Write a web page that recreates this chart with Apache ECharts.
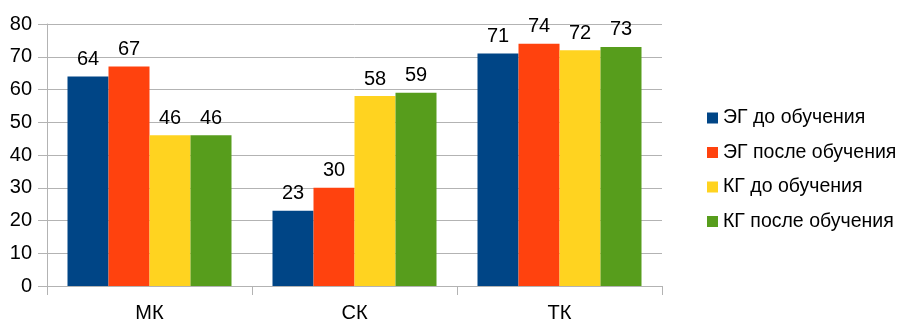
<!DOCTYPE html>
<html><head><meta charset="utf-8">
<script src="https://cdn.jsdelivr.net/npm/echarts@6/dist/echarts.min.js"></script>
<style>html,body{margin:0;padding:0;background:#fff}#c{width:905px;height:323px}</style>
</head><body><div id="c"></div>
<script>
var categories = ['МК', 'СК', 'ТК'];
var seriesNames = ['ЭГ до обучения', 'ЭГ после обучения', 'КГ до обучения', 'КГ после обучения'];
var egBefore = [64, 23, 71];
var egAfter = [67, 30, 74];
var kgBefore = [46, 58, 72];
var kgAfter = [46, 59, 73];
var colors = ['#004586', '#ff420e', '#ffd320', '#579d1c'];
var font = 'Liberation Sans, Arial, sans-serif';
var chart = echarts.init(document.getElementById('c'), null, {renderer: 'canvas'});
var data = [egBefore, egAfter, kgBefore, kgAfter];
chart.setOption({
  animation: false,
  color: colors,
  grid: {left: 47, right: 243, top: 24, bottom: 37},
  legend: {
    orient: 'vertical', left: 702, top: 103, itemGap: 14.5, itemWidth: 11, itemHeight: 11,
    icon: 'rect',
    textStyle: {fontFamily: font, fontSize: 19.5, color: '#000'},
    data: seriesNames
  },
  xAxis: {
    type: 'category', data: categories,
    axisLine: {lineStyle: {color: '#b3b3b3'}},
    axisTick: {show: true, length: 9, lineStyle: {color: '#b3b3b3'}},
    axisLabel: {fontFamily: font, fontSize: 20, color: '#000', margin: 17}
  },
  yAxis: {
    type: 'value', min: 0, max: 80, interval: 10,
    axisLine: {show: true, lineStyle: {color: '#b3b3b3'}},
    axisTick: {show: true, length: 9, lineStyle: {color: '#b3b3b3'}},
    splitLine: {lineStyle: {color: '#b3b3b3'}},
    axisLabel: {fontFamily: font, fontSize: 20, color: '#000', margin: 15}
  },
  series: seriesNames.map(function(n, i){
    return {
      name: n, type: 'bar', data: data[i], barGap: '0%', barCategoryGap: '20%',
      label: {show: true, position: 'top', distance: 7, fontFamily: font, fontSize: 20, color: '#000'}
    };
  })
});
</script></body></html>
